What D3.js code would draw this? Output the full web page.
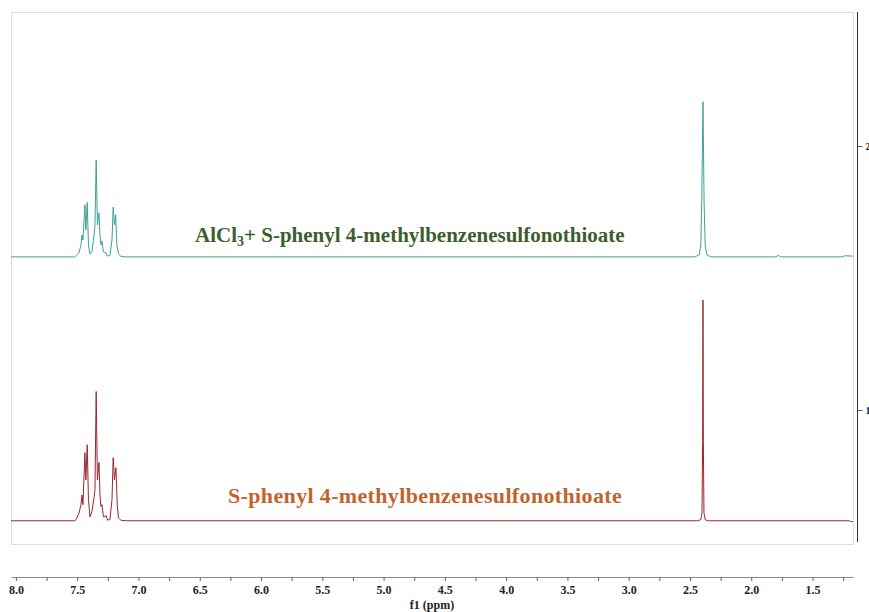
<!DOCTYPE html>
<html>
<head>
<meta charset="utf-8">
<script src="https://cdn.jsdelivr.net/npm/d3@7"></script>
<style>
  body { margin: 0; background: #fff; }
  svg { display: block; }
  .tick text { font-family: "Liberation Serif", "Times New Roman", serif; font-weight: bold; }
</style>
</head>
<body>
<div id="canvas"></div>
<script>
// tick labels
const ppmMajor = [8.0, 7.5, 7.0, 6.5, 6.0, 5.5, 5.0, 4.5, 4.0, 3.5, 3.0, 2.5, 2.0, 1.5];
const ppmMinor = [7.75, 7.25, 6.75, 6.25, 5.75, 5.25, 4.75, 4.25, 3.75, 3.25, 2.75, 2.25, 1.75, 1.25];
const intensityTicks = [1, 2];

// spectrum labels
const topLabel = 'AlCl';
const topLabelSub = '3';
const topLabelRest = '+ S-phenyl  4-methylbenzenesulfonothioate';
const bottomLabel = 'S-phenyl 4-methylbenzenesulfonothioate';

// stacking offsets of the two traces
const topOffset = 1.58;
const bottomOffset = 0.58;

// [ppm, intensity above baseline]
const topSpectrum = [
  [8.04, 0], [7.52, 0], [7.510, 0.004], [7.486, 0.015], [7.469, 0.045], [7.461, 0.083],
  [7.453, 0.064], [7.437, 0.197], [7.429, 0.102], [7.418, 0.206], [7.408, 0.045],
  [7.396, 0.011], [7.380, 0.019], [7.361, 0.087], [7.355, 0.12], [7.345, 0.367],
  [7.335, 0.121], [7.322, 0.167], [7.314, 0.083], [7.306, 0.045], [7.298, 0.06],
  [7.286, 0.019], [7.265, 0.015], [7.253, 0.003], [7.233, 0.006], [7.216, 0.064],
  [7.206, 0.189], [7.196, 0.121], [7.186, 0.159], [7.176, 0.045], [7.163, 0.011],
  [7.143, 0.002], [7.10, 0],
  [2.46, 0], [2.424, 0.008], [2.412, 0.045], [2.404, 0.21], [2.394, 0.588],
  [2.385, 0.21], [2.376, 0.045], [2.363, 0.008], [2.33, 0],
  [1.80, 0], [1.78, 0.006], [1.76, 0], [1.26, 0], [1.24, 0.004], [1.17, 0.003]
];

const bottomSpectrum = [
  [8.04, 0], [7.52, 0], [7.510, 0.004], [7.486, 0.027], [7.469, 0.061], [7.461, 0.098],
  [7.453, 0.061], [7.437, 0.258], [7.429, 0.155], [7.418, 0.288], [7.408, 0.080],
  [7.396, 0.015], [7.380, 0.034], [7.361, 0.092], [7.355, 0.117], [7.345, 0.490],
  [7.335, 0.155], [7.322, 0.221], [7.314, 0.098], [7.306, 0.054], [7.298, 0.061],
  [7.286, 0.015], [7.263, 0.019], [7.253, 0.003], [7.233, 0.004], [7.216, 0.080],
  [7.206, 0.239], [7.196, 0.155], [7.184, 0.201], [7.173, 0.061], [7.163, 0.011],
  [7.143, 0.002], [7.10, 0],
  [2.44, 0], [2.412, 0.004], [2.402, 0.03], [2.397, 0.3], [2.394, 0.837],
  [2.391, 0.3], [2.386, 0.03], [2.376, 0.004], [2.35, 0],
  [1.20, 0], [1.19, -0.003], [1.17, -0.003]
];

const width = 869;
const height = 612;
const plot = { left: 11, right: 853, top: 12, bottom: 544 };

const svg = d3.select('#canvas')
  .append('svg')
  .attr('width', width)
  .attr('height', height);

// scales
const x = d3.scaleLinear().domain([8.04, 1.17]).range([plot.left, plot.right]);
const y = d3.scaleLinear().domain([0.492, 2.508]).range([plot.bottom, plot.top]);

// plot frame
svg.append('rect')
  .attr('x', plot.left + 0.5)
  .attr('y', plot.top + 0.5)
  .attr('width', plot.right - plot.left)
  .attr('height', plot.bottom - plot.top)
  .attr('fill', 'none')
  .attr('stroke', '#dcdcdc')
  .attr('stroke-width', 1);

// line generators
const lineFor = (offset) => d3.line()
  .x(d => x(d[0]))
  .y(d => y(offset + d[1]));

svg.append('path')
  .datum(topSpectrum)
  .attr('fill', 'none')
  .attr('stroke', '#3f9f9a')
  .attr('stroke-width', 1)
  .attr('stroke-linejoin', 'round')
  .attr('d', lineFor(topOffset));

svg.append('path')
  .datum(bottomSpectrum)
  .attr('fill', 'none')
  .attr('stroke', '#9b2530')
  .attr('stroke-width', 1)
  .attr('stroke-linejoin', 'round')
  .attr('d', lineFor(bottomOffset));

// labels
const topText = svg.append('text')
  .attr('x', 195)
  .attr('y', 242)
  .attr('font-family', '"Liberation Serif", "Times New Roman", serif')
  .attr('font-weight', 'bold')
  .attr('font-size', 21)
  .attr('fill', '#3d5e2c');
topText.append('tspan').text(topLabel);
topText.append('tspan').attr('font-size', 14).attr('dy', 4).text(topLabelSub);
topText.append('tspan').attr('dy', -4).text(topLabelRest);

svg.append('text')
  .attr('x', 228)
  .attr('y', 503)
  .attr('font-family', '"Liberation Serif", "Times New Roman", serif')
  .attr('font-weight', 'bold')
  .attr('font-size', 22)
  .attr('letter-spacing', 0.35)
  .attr('fill', '#c2632c')
  .text(bottomLabel);

// x axis
const xAxisGroup = svg.append('g')
  .attr('transform', 'translate(0,577)');

xAxisGroup.call(d3.axisBottom(x)
  .tickValues(ppmMajor.concat(ppmMinor))
  .tickSizeInner(4)
  .tickSizeOuter(0)
  .tickPadding(4)
  .tickFormat(d => ppmMajor.includes(d) ? d.toFixed(1) : ''));

xAxisGroup.select('.domain').attr('stroke', '#8a8a8a');
xAxisGroup.selectAll('.tick line').attr('stroke', '#666');
xAxisGroup.selectAll('.tick text')
  .attr('font-size', 12)
  .attr('fill', '#222');

svg.append('text')
  .attr('x', 432)
  .attr('y', 609)
  .attr('text-anchor', 'middle')
  .attr('font-family', '"Liberation Serif", "Times New Roman", serif')
  .attr('font-weight', 'bold')
  .attr('font-size', 12)
  .attr('fill', '#222')
  .text('f1 (ppm)');

// right intensity axis
const yAxisGroup = svg.append('g')
  .attr('transform', 'translate(857.5,0)');

yAxisGroup.call(d3.axisRight(y)
  .tickValues(intensityTicks)
  .tickSizeInner(5)
  .tickSizeOuter(0)
  .tickPadding(3)
  .tickFormat(d3.format('d')));

yAxisGroup.select('.domain')
  .attr('stroke', '#333')
  .attr('d', `M0,${plot.top}V${plot.bottom - 2}`);
yAxisGroup.selectAll('.tick line').attr('stroke', '#555');
yAxisGroup.selectAll('.tick text')
  .attr('font-size', 10)
  .attr('fill', '#222');
</script>
</body>
</html>
